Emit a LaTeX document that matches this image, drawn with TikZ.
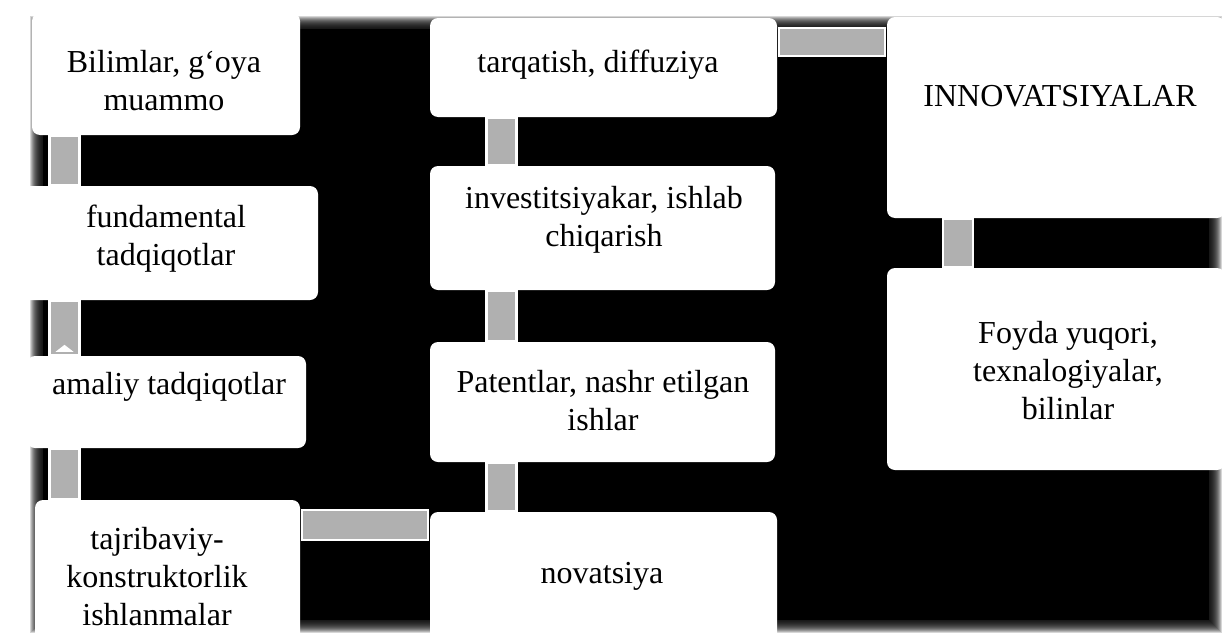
\documentclass[tikz,border=0pt]{standalone}
\usepackage{fontspec}
\setmainfont{Liberation Serif}
\newfontfamily\tnrfont{Liberation Serif}
\usetikzlibrary{calc}
\begin{document}
\begin{tikzpicture}[x=1pt,y=-1pt]
\tikzset{
  box/.style={draw=none, fill=white, rounded corners=8pt, inner sep=0pt},
  lbl/.style={font=\tnrfont\fontsize{32}{38}\selectfont, align=center, inner sep=0pt, text=black},
  conn/.style={fill=gray!62, draw=white, line width=2.5pt}
}
\useasboundingbox (0,0) rectangle (1225,637);
\fill[white] (0,0) rectangle (1225,637);
% blurred black background
\foreach \i in {0,...,12}{
  \fill[black,opacity=0.16] (30+\i,16+\i) rectangle (1222-\i,633-\i);
}
\fill[black] (43,29) rectangle (1209,620);
% boxes
\node[box, minimum width=268pt, minimum height=122pt] (b1) at (166,74) {};
\node[box, minimum width=301pt, minimum height=114pt] (b2) at (167.5,243) {};
\node[box, minimum width=279pt, minimum height=92pt] (b3) at (166.5,402) {};
\node[box, minimum width=265pt, minimum height=145pt] (b4) at (167.5,572.5) {};
\node[box, minimum width=347pt, minimum height=99pt] (b5) at (603.5,67.5) {};
\node[box, minimum width=345pt, minimum height=124pt] (b6) at (602.5,228) {};
\node[box, minimum width=345pt, minimum height=120pt] (b7) at (602.5,402) {};
\node[box, minimum width=347pt, minimum height=133pt] (b8) at (603.5,578.5) {};
\node[box, minimum width=338pt, minimum height=201pt] (b9) at (1056,117.5) {};
\node[box, minimum width=338pt, minimum height=202pt] (b10) at (1056,369) {};
% connector axes
\coordinate (ca) at (64.5,0);
\coordinate (cb) at (501.5,0);
\coordinate (cc) at (958,0);
\coordinate (ha) at (0,525);
\coordinate (hb) at (0,42);
% vertical connectors
\draw[conn] ($(b1.south -| ca)+(-15,1)$) rectangle ($(b2.north -| ca)+(15,-1)$);
\draw[conn] ($(b2.south -| ca)+(-15,1)$) rectangle ($(b3.north -| ca)+(15,-1)$);
\draw[conn] ($(b3.south -| ca)+(-15,1)$) rectangle ($(b4.north -| ca)+(15,-1)$);
\draw[conn] ($(b5.south -| cb)+(-15,1)$) rectangle ($(b6.north -| cb)+(15,-1)$);
\draw[conn] ($(b6.south -| cb)+(-15,1)$) rectangle ($(b7.north -| cb)+(15,-1)$);
\draw[conn] ($(b7.south -| cb)+(-15,1)$) rectangle ($(b8.north -| cb)+(15,-1)$);
\draw[conn] ($(b9.south -| cc)+(-15,1)$) rectangle ($(b10.north -| cc)+(15,-1)$);
% horizontal connectors
\draw[conn] ($(b4.east |- ha)+(2,-15)$) rectangle ($(b8.west |- ha)+(-2,15)$);
\draw[conn] ($(b5.east |- hb)+(2,-14)$) rectangle ($(b9.west |- hb)+(-2,14)$);
% small arrow remnants
\fill[white] ($(b2.north -| ca)+(-6,-1)$) arc (180:0:6 and 4) -- cycle;
\fill[white] ($(b3.north -| ca)+(-9,-4)$) -- ($(b3.north -| ca)+(0,-11)$) -- ($(b3.north -| ca)+(9,-4)$) -- cycle;
% labels
\node[lbl] (t1) at (164,81) {Bilimlar, g‘oya\\muammo};
\node[lbl] (t2) at (166,239) {fundamental\\tadqiqotlar};
\node[lbl] (t3) at (169,387) {amaliy tadqiqotlar};
\node[lbl] (t4) at (157,577) {tajribaviy-\\konstruktorlik\\ishlanmalar};
\node[lbl] (t5) at (598,65) {tarqatish, diffuziya};
\node[lbl] (t6) at (604,220) {investitsiyakar, ishlab\\chiqarish};
\node[lbl] (t7) at (603,401) {Patentlar, nashr etilgan\\ishlar};
\node[lbl] (t8) at (602,576) {novatsiya};
\node[lbl] (t9) at (1060,96) {INNOVATSIYALAR};
\node[lbl] (t10) at (1068,371) {Foyda yuqori,\\texnalogiyalar,\\bilinlar};
\end{tikzpicture}
\end{document}
